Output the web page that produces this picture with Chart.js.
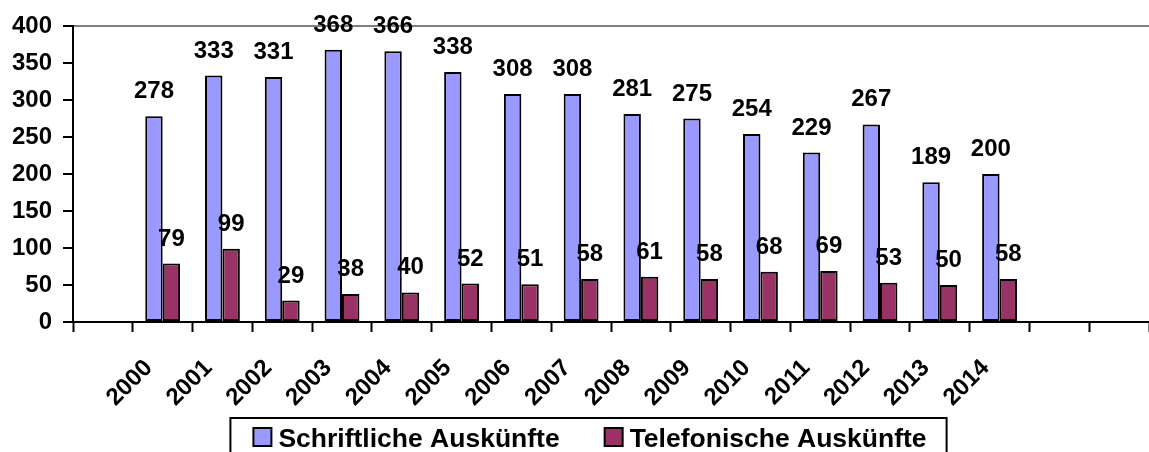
<!DOCTYPE html>
<html lang="de">
<head>
<meta charset="utf-8">
<title>Auskünfte 2000–2014</title>
<script src="https://cdn.jsdelivr.net/npm/chart.js@4/dist/chart.umd.min.js"></script>
<style>
  html, body { margin: 0; padding: 0; background: #fff; overflow: hidden; }
  #wrap { width: 1149px; height: 452px; }
</style>
</head>
<body>
<div id="wrap"><canvas id="auskuenfteChart" width="1149" height="452"></canvas></div>
<script>
const years = ['2000', '2001', '2002', '2003', '2004', '2005', '2006', '2007',
               '2008', '2009', '2010', '2011', '2012', '2013', '2014'];
const schriftlich = [278, 333, 331, 368, 366, 338, 308, 308, 281, 275, 254, 229, 267, 189, 200];
const telefonisch = [79, 99, 29, 38, 40, 52, 51, 58, 61, 58, 68, 69, 53, 50, 58];
const yTicks = [0, 50, 100, 150, 200, 250, 300, 350, 400];

// one empty slot before the first year, two after the last
const labels = ['', ...years, '', ''];
const pad = arr => [null, ...arr, null, null];

const FONT = "'Liberation Sans', Arial, sans-serif";
const OVERHANG = -5; // plot area runs a little past the right edge

// value labels above every bar
const valueLabels = {
    id: 'valueLabels',
    afterDatasetsDraw(chart) {
        const ctx = chart.ctx;
        ctx.save();
        ctx.font = 'bold 24px ' + FONT;
        ctx.fillStyle = '#000';
        ctx.textAlign = 'center';
        ctx.textBaseline = 'alphabetic';
        chart.data.datasets.forEach((ds, i) => {
            chart.getDatasetMeta(i).data.forEach((bar, j) => {
                const v = ds.data[j];
                if (v == null) return;
                ctx.fillText(String(v), bar.x, bar.y - 18);
            });
        });
        ctx.restore();
    }
};

// framed legend below the axis labels (frame runs off the bottom edge)
const LEGEND_CENTER = 590;
const LEGEND_TOP = 418;
const framedLegend = {
    id: 'framedLegend',
    afterDraw(chart) {
        const ctx = chart.ctx;
        const box = 18, gapText = 7, gapItem = 45;
        ctx.save();
        ctx.font = 'bold 26.5px ' + FONT;
        const items = chart.data.datasets.map(ds => ({
            text: ds.label,
            color: ds.backgroundColor,
            w: box + gapText + ctx.measureText(ds.label).width
        }));
        const total = items.reduce((s, it) => s + it.w, 0) + gapItem * (items.length - 1);
        let x = LEGEND_CENTER - total / 2;

        ctx.strokeStyle = '#000';
        ctx.lineWidth = 2;
        ctx.strokeRect(x - 23, LEGEND_TOP, total + 43, 60);

        ctx.textBaseline = 'alphabetic';
        ctx.textAlign = 'left';
        items.forEach(it => {
            ctx.fillStyle = it.color;
            ctx.fillRect(x, LEGEND_TOP + 10, box, box);
            ctx.strokeRect(x, LEGEND_TOP + 10, box, box);
            ctx.fillStyle = '#000';
            ctx.fillText(it.text, x + box + gapText, LEGEND_TOP + 29);
            x += it.w + gapItem;
        });
        ctx.restore();
    }
};

new Chart(document.getElementById('auskuenfteChart'), {
    type: 'bar',
    data: {
        labels: labels,
        datasets: [{
            label: 'Schriftliche Auskünfte',
            data: pad(schriftlich),
            backgroundColor: '#9999FF',
            borderColor: '#000',
            borderWidth: 2,
            borderSkipped: false
        }, {
            label: 'Telefonische Auskünfte',
            data: pad(telefonisch),
            backgroundColor: '#993366',
            borderColor: '#000',
            borderWidth: 2,
            borderSkipped: false
        }]
    },
    options: {
        responsive: false,
        animation: false,
        devicePixelRatio: 1,
        categoryPercentage: 0.583,
        barPercentage: 1.0,
        layout: { padding: { left: 0, right: OVERHANG, top: 26, bottom: 30 } },
        plugins: {
            legend: { display: false },
            title: { display: false },
            tooltip: { enabled: false }
        },
        scales: {
            x: {
                grid: {
                    offset: true,
                    drawOnChartArea: false,
                    tickLength: 10,
                    tickColor: '#000',
                    tickWidth: 2
                },
                border: { color: '#000', width: 2 },
                ticks: {
                    color: '#000',
                    font: { family: FONT, size: 24, weight: 'bold' },
                    minRotation: 45,
                    maxRotation: 45,
                    autoSkip: false,
                    padding: 22,
                    labelOffset: -14
                },
                afterFit(scale) {
                    scale.height = 100;
                    // the end slots are empty, no room needed for label overhang
                    scale.paddingLeft = 0;
                    scale.paddingRight = OVERHANG;
                }
            },
            y: {
                min: 0,
                max: 400,
                afterBuildTicks(scale) {
                    scale.ticks = yTicks.map(v => ({ value: v }));
                },
                grid: {
                    color: c => (c.tick && c.tick.value === 400) ? '#808080' : 'rgba(0,0,0,0)',
                    lineWidth: 2,
                    tickLength: 10,
                    tickColor: '#000',
                    tickWidth: 2
                },
                border: { color: '#000', width: 2 },
                ticks: {
                    color: '#000',
                    font: { family: FONT, size: 24, weight: 'bold' },
                    padding: 11
                },
                afterFit(scale) {
                    scale.width = 73;
                    scale.paddingRight = OVERHANG;
                }
            }
        }
    },
    plugins: [valueLabels, framedLegend]
});
</script>
</body>
</html>
